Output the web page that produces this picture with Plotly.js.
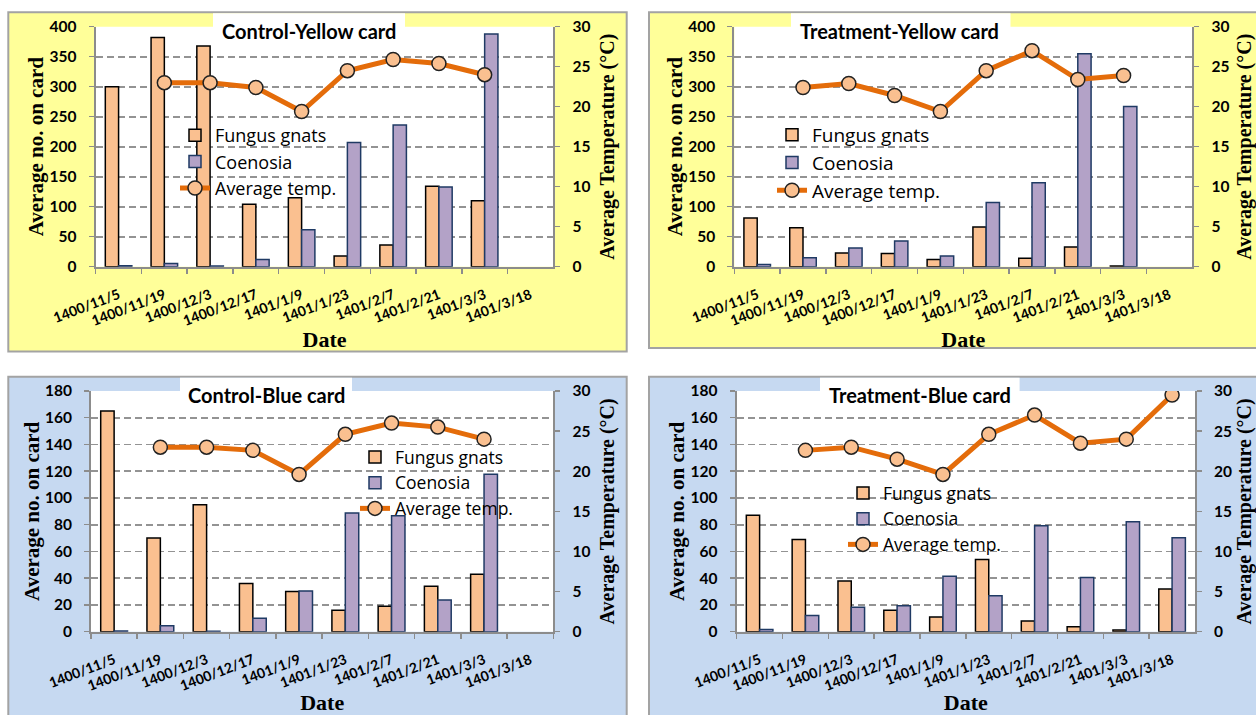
<!DOCTYPE html>
<html><head><meta charset="utf-8">
<script src="https://cdn.plot.ly/plotly-3.0.1.min.js"></script>
<style>html,body{margin:0;padding:0;background:#fff;} #chart{width:1256px;height:715px;}</style>
</head><body><div id="chart"></div>
<script>
// ---- data ----
const dates = ['1400/11/5','1400/11/19','1400/12/3','1400/12/17','1401/1/9','1401/1/23','1401/2/7','1401/2/21','1401/3/3','1401/3/18'];

const cyFungus = [300, 382, 368, 104, 115, 18, 36, 134, 110, null];
const cyCoen   = [1.5, 5.5, 1, 12, 61.5, 207, 236, 133, 388, null];
const cyTemp   = [null, 23, 23, 22.4, 19.4, 24.5, 25.9, 25.4, 24, null];

const tyFungus = [81, 65, 23, 22, 12, 66, 14, 33, 1, null];
const tyCoen   = [3.5, 15, 31, 43, 18, 107, 140, 355, 267, null];
const tyTemp   = [null, 22.4, 22.9, 21.4, 19.4, 24.5, 27, 23.4, 23.9, null];

const cbFungus = [165, 70, 95, 36, 30, 16, 19, 34, 43, null];
const cbCoen   = [0.5, 4.5, 0.3, 10, 30.5, 88.7, 86.8, 23.7, 117.7, null];
const cbTemp   = [null, 23, 23, 22.6, 19.6, 24.6, 26, 25.5, 24, null];

const tbFungus = [87, 69, 38, 16, 11, 54, 8, 3.7, 1.2, 32];
const tbCoen   = [1.7, 12.2, 18.2, 19.4, 41.4, 26.9, 79.3, 40.6, 82.3, 70.3];
const tbTemp   = [null, 22.6, 23, 21.5, 19.6, 24.6, 27, 23.5, 24, 29.5];

const panelTitles = ['Control-Yellow card', 'Treatment-Yellow card', 'Control-Blue card', 'Treatment-Blue card'];
const seriesNames = ['Fungus gnats', 'Coenosia', 'Average temp.'];
const leftTitle = 'Average no. on card';
const rightTitle = 'Average Temperature (°C)';
const xTitle = 'Date';
const leftMax = [400, 400, 180, 180];
const leftStep = [50, 50, 20, 20];

// ---- layout geometry (pixels) ----
const W = 1256, H = 715;
const px = x => x / W, py = y => 1 - y / H;
const geo = [
  {x0:95.7, x1:553.3, y0:26.7, y1:266.7, bg:'#ffff99', panel:[8.3,12.3,626.7,351.5], box:[213,13.3,405,42], tx:309, ty:31, leg:{x:175, y:117, fs:18}},
  {x0:734.3, x1:1192.3, y0:26.7, y1:266.7, bg:'#ffff99', panel:[649,12.3,1265,348], box:[791,13.3,1010.5,42], tx:900, ty:31, leg:{x:772, y:116, fs:19}},
  {x0:91, x1:553.4, y0:391, y1:631.7, bg:'#c6d9f1', panel:[8.3,376.7,626.7,725], box:[180,377.7,352,405], tx:266, ty:395, leg:{x:355, y:439, fs:17.5}},
  {x0:736.7, x1:1195, y0:391, y1:631.7, bg:'#c6d9f1', panel:[649,376.7,1265,725], box:[820,377.7,1019.6,405], tx:920, ty:395, leg:{x:843, y:475, fs:17.5}}
];
const sets = [[cyFungus,cyCoen,cyTemp],[tyFungus,tyCoen,tyTemp],[cbFungus,cbCoen,cbTemp],[tbFungus,tbCoen,tbTemp]];

const axisGray = '#8c8c8c';
const tickFont = {family:'Lato', size:15.5, color:'#000', weight:700};
const xTickFont = {family:'Lato', size:14, color:'#000', weight:700};
const leftTitleFont = {family:'Liberation Serif', size:21, color:'#000', weight:700};
const rightTitleFont = {family:'Liberation Serif', size:20, color:'#000', weight:700};
const xTitleFont = {family:'Liberation Serif', size:22, color:'#000', weight:700};

const data = [];
const layout = {
  width: W, height: H,
  margin: {l:0, r:0, t:0, b:0},
  paper_bgcolor: '#ffffff',
  plot_bgcolor: 'rgba(0,0,0,0)',
  barmode: 'group', bargap: 0.42, bargroupgap: 0,
  showlegend: true,
  shapes: [], annotations: []
};

geo.forEach((g, i) => {
  const n = i + 1;
  const xa = n === 1 ? 'x' : 'x' + n;
  const yl = (2*n-1) === 1 ? 'y' : 'y' + (2*n-1);
  const yr = 'y' + (2*n);
  const leg = n === 1 ? 'legend' : 'legend' + n;
  const [f, c, t] = sets[i];

  data.push({type:'bar', name:seriesNames[0], x:dates, y:f, xaxis:xa, yaxis:yl, legend:leg,
    marker:{color:'#fac090', line:{color:'#000000', width:1.5}}, hoverinfo:'skip'});
  data.push({type:'bar', name:seriesNames[1], x:dates, y:c, xaxis:xa, yaxis:yl, legend:leg,
    marker:{color:'#b3a2c7', line:{color:'#1f3a64', width:1.5}}, hoverinfo:'skip'});
  data.push({type:'scatter', mode:'lines+markers', name:seriesNames[2], x:dates, y:t, xaxis:xa, yaxis:yr, legend:leg,
    line:{color:'#e46c0a', width:5}, marker:{size:14, color:'#fac090', line:{color:'#222222', width:1.5}}, hoverinfo:'skip'});

  layout[n === 1 ? 'xaxis' : 'xaxis' + n] = {
    domain:[px(g.x0), px(g.x1)], anchor: yl,
    type:'category', categoryorder:'array', categoryarray:dates, range:[-0.5, 9.5],
    tickangle:-21, tickfont:xTickFont, ticklabelstandoff:13,
    showline:true, linecolor:axisGray, linewidth:2,
    ticks:'outside', ticklen:5, tickwidth:1.5, tickcolor:axisGray, tickson:'boundaries',
    showgrid:false, zeroline:false,
    title:{text:xTitle, font:xTitleFont, standoff:4}
  };
  layout[(2*n-1) === 1 ? 'yaxis' : 'yaxis' + (2*n-1)] = {
    domain:[py(g.y1), py(g.y0)], anchor: xa,
    range:[0, leftMax[i]], tick0:0, dtick:leftStep[i],
    showgrid:true, gridcolor:'#939393', gridwidth:1.6, griddash:'7px,4px',
    showline:true, linecolor:axisGray, linewidth:2,
    ticks:'outside', ticklen:5, tickwidth:1.5, tickcolor:axisGray,
    tickfont:tickFont, ticklabelstandoff:9, zeroline:false,
    title:{text:leftTitle, font:leftTitleFont, standoff:0}
  };
  layout['yaxis' + (2*n)] = {
    overlaying: yl, anchor: xa, side:'right',
    range:[0, 30], tick0:0, dtick:5,
    showgrid:false, showline:true, linecolor:axisGray, linewidth:2,
    ticks:'outside', ticklen:5, tickwidth:1.5, tickcolor:axisGray,
    tickfont:tickFont, ticklabelstandoff:9, zeroline:false,
    title:{text:rightTitle, font:rightTitleFont, standoff:11}
  };
  layout[leg] = {
    x:px(g.leg.x), y:py(g.leg.y), xanchor:'left', yanchor:'top',
    bgcolor:'rgba(0,0,0,0)', borderwidth:0, traceorder:'normal',
    font:{family:'Open Sans', size:g.leg.fs, color:'#000'}
  };

  layout.shapes.push({type:'rect', xref:'paper', yref:'paper', layer:'below',
    x0:px(g.panel[0]), x1:px(g.panel[2]), y0:py(g.panel[3]), y1:py(g.panel[1]),
    fillcolor:g.bg, line:{color:'#a3a3a3', width:2}});
  layout.shapes.push({type:'rect', xref:xa + ' domain', yref:yl + ' domain', layer:'below',
    x0:0, x1:1, y0:0, y1:1, fillcolor:'#ffffff', line:{width:0}});
  layout.shapes.push({type:'rect', xref:'paper', yref:'paper', layer:'above',
    x0:px(g.box[0]), x1:px(g.box[2]), y0:py(g.box[3]), y1:py(g.box[1]),
    fillcolor:'#ffffff', line:{width:0}});
  layout.annotations.push({xref:'paper', yref:'paper', x:px(g.tx), y:py(g.ty),
    xanchor:'center', yanchor:'middle', showarrow:false, text:panelTitles[i],
    font:{family:'Lato', size:20, color:'#000', weight:700}});
});

Plotly.newPlot('chart', data, layout, {staticPlot:true, displayModeBar:false});
</script>
</body></html>
